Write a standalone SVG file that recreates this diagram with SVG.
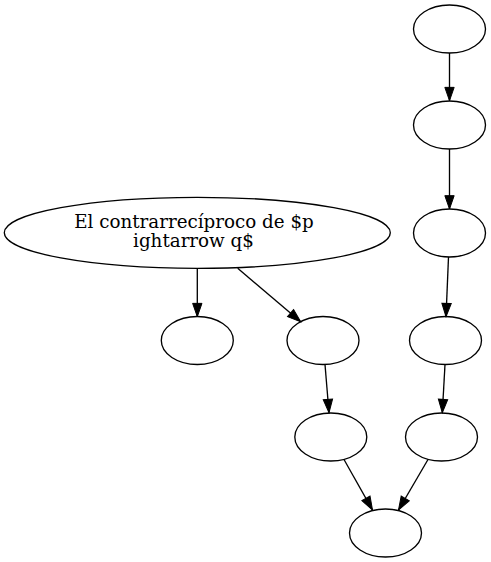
<svg xmlns="http://www.w3.org/2000/svg" width="491" height="562" viewBox="0 0 491 562">
<style>
.n ellipse{fill:none;stroke:#000;stroke-width:1.33}
.e line{stroke:#000;stroke-width:1.33;marker-end:url(#ah)}
text{font-family:"DejaVu Serif","Liberation Serif",serif;font-size:18.3px;fill:#000;text-anchor:middle}
</style>
<defs>
<marker id="ah" markerUnits="userSpaceOnUse" markerWidth="16" markerHeight="12" viewBox="0 -6 14 12" refX="13.33" refY="0" orient="auto">
<path d="M0,-4.67 L13.33,0 L0,4.67 z" fill="#000" stroke="#000" stroke-width="1"/>
</marker>
</defs>
<rect width="491" height="562" fill="#fff"/>
<g class="e" id="edges">
<line x1="449.5" y1="53" x2="449.5" y2="100.7"/>
<line x1="449.5" y1="149" x2="449.5" y2="209"/>
<line x1="448.5" y1="257" x2="446" y2="316.7"/>
<line x1="445" y1="364.5" x2="442.3" y2="412.7"/>
<line x1="428" y1="459.5" x2="398.5" y2="510"/>
<line x1="197.3" y1="268.3" x2="197.3" y2="316.7"/>
<line x1="237.7" y1="268.3" x2="300.7" y2="321.7"/>
<line x1="325" y1="364.5" x2="329" y2="412.7"/>
<line x1="344" y1="459.5" x2="372.5" y2="510"/>
</g>
<g class="n" id="n1"><ellipse cx="449.5" cy="29" rx="36" ry="24"/></g>
<g class="n" id="n2"><ellipse cx="449.5" cy="125" rx="36" ry="24"/></g>
<g class="n" id="n3"><ellipse cx="449.5" cy="233" rx="36" ry="24"/></g>
<g class="n" id="n4"><ellipse cx="445.5" cy="340.5" rx="36" ry="24"/></g>
<g class="n" id="n5"><ellipse cx="441.5" cy="437" rx="36" ry="24"/></g>
<g class="n" id="n6"><ellipse cx="385.5" cy="533" rx="36" ry="24"/></g>
<g class="n" id="n7"><ellipse cx="197.3" cy="232.8" rx="193" ry="35.5"/>
<text x="194" y="227.7">El contrarrecíproco de $p</text>
<text x="193.5" y="246.7">ightarrow q$</text></g>
<g class="n" id="n8"><ellipse cx="197.3" cy="340.5" rx="36" ry="24"/></g>
<g class="n" id="n9"><ellipse cx="323" cy="340.5" rx="36" ry="24"/></g>
<g class="n" id="n10"><ellipse cx="330.8" cy="437" rx="36" ry="24"/></g>
</svg>
